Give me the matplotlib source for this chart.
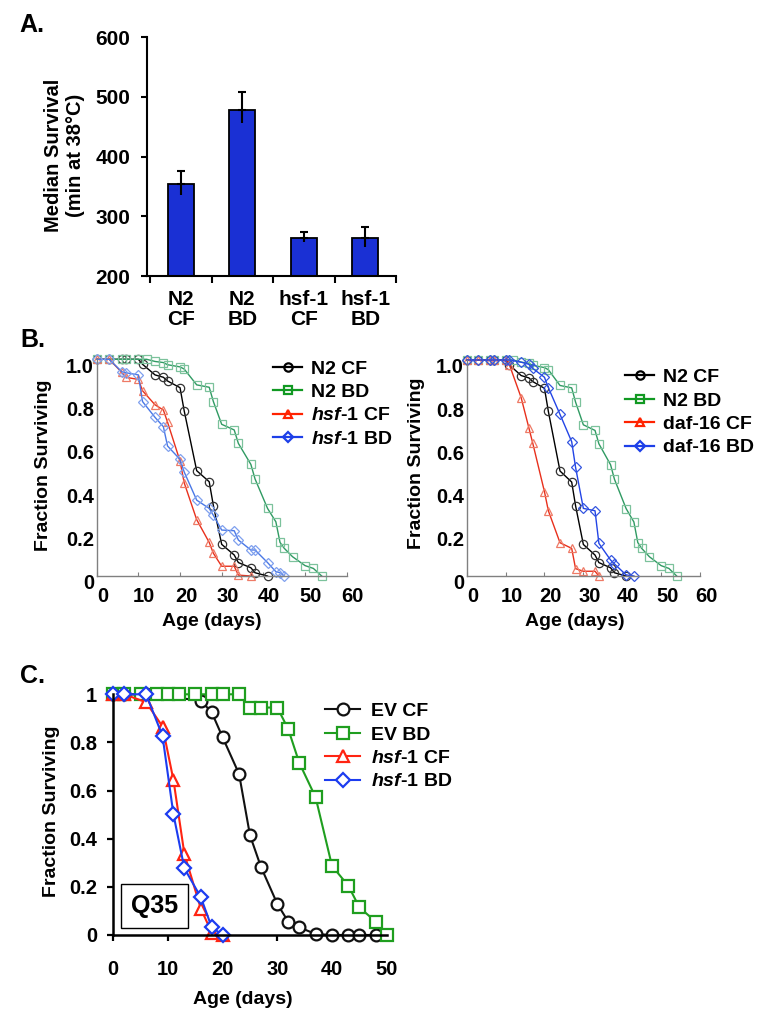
import matplotlib
matplotlib.use('Agg')
import matplotlib.pyplot as plt
from matplotlib.transforms import ScaledTranslation

plt.rcParams['font.family'] = ['Liberation Sans', 'DejaVu Sans']
plt.rcParams['font.weight'] = 'bold'
plt.rcParams['mathtext.fontset'] = 'custom'
plt.rcParams['mathtext.it'] = 'Liberation Sans:italic:bold'
plt.rcParams['mathtext.rm'] = 'Liberation Sans:bold'

# ---- Panel A: median survival at 38C ----
bar_labels = ['N2\nCF', 'N2\nBD', 'hsf-1\nCF', 'hsf-1\nBD']
median_survival = [354, 478, 264, 264]
err_low = [19, 22, 7, 15]
err_high = [22, 30, 10, 18]

# ---- Panel B: survival curves (days, fraction surviving) ----
n2_cf_days = [0, 3, 6, 7, 10, 11, 14, 16, 17, 20, 21, 24, 27, 28, 30, 33, 34, 37, 38, 41]
n2_cf_frac = [1, 1, 1, 1, 1, 0.977, 0.928, 0.917, 0.9, 0.869, 0.762, 0.486, 0.435, 0.325,
              0.146, 0.097, 0.062, 0.038, 0.015, 0]
n2_bd_days = [0, 3, 6, 7, 10, 12, 14, 16, 17, 20, 21, 24, 27, 28, 30, 33, 34, 37, 38, 41,
              43, 44, 45, 47, 50, 52, 54]
n2_bd_frac = [1, 1, 1, 1, 1, 1, 0.99, 0.985, 0.975, 0.965, 0.955, 0.882, 0.871, 0.805, 0.7,
              0.674, 0.612, 0.515, 0.448, 0.312, 0.25, 0.155, 0.128, 0.089, 0.048, 0.035, 0]
hsf1_cf_days = [0, 3, 6, 7, 10, 11, 14, 16, 17, 20, 21, 24, 27, 28, 30, 33, 34, 37]
hsf1_cf_frac = [1, 1, 0.94, 0.917, 0.907, 0.855, 0.79, 0.766, 0.71, 0.53, 0.43, 0.26, 0.155,
                0.105, 0.045, 0.045, 0.004, 0]
hsf1_bd_days = [0, 3, 6, 7, 10, 11, 14, 16, 17, 20, 21, 24, 27, 28, 30, 33, 34, 37, 38, 41,
                43, 44, 45]
hsf1_bd_frac = [1, 1, 0.943, 0.938, 0.928, 0.805, 0.732, 0.689, 0.6, 0.538, 0.48, 0.35, 0.312,
                0.28, 0.212, 0.209, 0.166, 0.12, 0.12, 0.062, 0.02, 0.015, 0]
daf16_cf_days = [0, 3, 6, 7, 10, 11, 14, 16, 17, 20, 21, 24, 27, 28, 30, 33, 34]
daf16_cf_frac = [1, 1, 1, 1, 1, 0.977, 0.826, 0.685, 0.614, 0.39, 0.302, 0.154, 0.128, 0.034,
                 0.022, 0.022, 0]
daf16_bd_days = [0, 3, 6, 7, 10, 11, 14, 16, 17, 20, 21, 24, 27, 28, 30, 33, 34, 37, 38, 41, 43]
daf16_bd_frac = [1, 1, 1, 1, 1, 1, 0.99, 0.98, 0.961, 0.92, 0.872, 0.748, 0.622, 0.503, 0.313,
                 0.302, 0.151, 0.074, 0.056, 0.005, 0]

# ---- Panel C: Q35 survival ----
ev_cf_days = [0, 2, 6, 16, 18, 20, 23, 25, 27, 30, 32, 34, 37, 40, 43, 45, 48]
ev_cf_frac = [1, 1, 1, 0.974, 0.925, 0.821, 0.669, 0.414, 0.283, 0.129, 0.055, 0.032, 0.004,
              0, 0, 0, 0]
ev_bd_days = [0, 2, 5, 8, 10, 12, 15, 18, 20, 23, 25, 27, 30, 32, 34, 37, 40, 43, 45, 48, 50]
ev_bd_frac = [1, 1, 1, 1, 1, 1, 1, 1, 1, 1, 0.945, 0.945, 0.945, 0.855, 0.716, 0.572, 0.287,
              0.204, 0.115, 0.055, 0]
q_hsf1_cf_days = [0, 2, 6, 9, 11, 13, 16, 18, 20]
q_hsf1_cf_frac = [1, 1, 0.967, 0.866, 0.644, 0.337, 0.11, 0.01, 0]
q_hsf1_bd_days = [0, 2, 6, 9, 11, 13, 16, 18, 20]
q_hsf1_bd_frac = [1, 1, 1, 0.827, 0.501, 0.277, 0.157, 0.032, 0]

W, H = 768, 1029
fig = plt.figure(figsize=(7.68, 10.29), dpi=100)


def add_ax(x0, y0, x1, y1):
    # box given in pixels from the top-left corner
    return fig.add_axes([x0 / W, 1 - y1 / H, (x1 - x0) / W, (y1 - y0) / H])


def fig_text(x, y, s, **kw):
    fig.text(x / W, 1 - y / H, s, **kw)


# ================= Panel A =================
ax = add_ax(146.7, 37.3, 396, 276)
pos = list(range(len(median_survival)))
zeros = [0] * len(pos)
ax.bar(pos, median_survival, width=0.43, color='#1a30d4', edgecolor='black', linewidth=1.3,
       zorder=2)
ax.errorbar(pos, median_survival, yerr=[zeros, err_high], fmt='none', ecolor='black',
            elinewidth=1.5, capsize=2.6, capthick=1.5, zorder=3)
ax.errorbar(pos, median_survival, yerr=[err_low, zeros], fmt='none', ecolor='black',
            elinewidth=1.5, capsize=0, zorder=3)
ax.set_ylim(200, 600)
ax.set_xlim(-0.554, 3.5)
ax.set_yticks([200, 300, 400, 500, 600])
ax.set_xticks([-0.5, 0.5, 1.5, 2.5, 3.5])
ax.set_xticklabels([])
ax.set_xticks(pos, minor=True)
ax.set_xticklabels(bar_labels, minor=True, linespacing=1.05)
ax.tick_params(axis='x', which='major', direction='out', length=5, width=1.5)
ax.tick_params(axis='x', which='minor', length=0, pad=10, labelsize=15)
ax.tick_params(axis='y', direction='out', length=4, width=1.5, pad=8, labelsize=15)
for s in ['top', 'right']:
    ax.spines[s].set_visible(False)
for s in ['left', 'bottom']:
    ax.spines[s].set_linewidth(1.5)
fig_text(64.5, 155, 'Median Survival\n(min at 38\u00b0C)', rotation=90, ha='center',
         va='center', fontsize=14.5, linespacing=1.25)
fig_text(19, 32, 'A.', fontsize=18, va='baseline')


# ================= Panel B =================
def style_b(ax):
    ax.set_xlim(0, 60)
    ax.set_ylim(0, 1.0)
    ax.set_xticks([0, 10, 20, 30, 40, 50, 60])
    ax.set_yticks([0, 0.2, 0.4, 0.6, 0.8, 1.0])
    ax.set_yticklabels(['0', '0.2', '0.4', '0.6', '0.8', '1.0'])
    ax.tick_params(axis='x', direction='in', length=3, width=0.8, color='#808080', pad=3.6,
                   labelsize=14.5)
    ax.tick_params(axis='y', length=0, pad=6.3, labelsize=14.5)
    for s in ['top', 'right']:
        ax.spines[s].set_visible(False)
    for s in ['left', 'bottom']:
        ax.spines[s].set_color('#808080')
        ax.spines[s].set_linewidth(1.0)
    off = ScaledTranslation(4.3 / 72, -4.3 / 72, fig.dpi_scale_trans)
    for lab in ax.get_xticklabels() + ax.get_yticklabels():
        lab.set_transform(lab.get_transform() + off)


def curve(ax, d, f, line_c, mark_c, marker, label, ms=6, lw=1.0, mew=0.9):
    ax.plot(d, f, color=line_c, marker=marker, ms=ms, mfc='none', mec=mark_c, mew=mew,
            lw=lw, label=label, clip_on=False)


def legend_b(ax, x, y, colors):
    leg = ax.legend(loc='upper left', bbox_to_anchor=(x / W, 1 - y / H),
                    bbox_transform=fig.transFigure, frameon=False, fontsize=14,
                    handlelength=1.5, handletextpad=0.45, labelspacing=0.3, borderpad=0,
                    borderaxespad=0)
    for h, c in zip(leg.legend_handles, colors):
        h.set_color(c)
        h.set_markeredgecolor(c)
        h.set_linewidth(1.6)
        h.set_markeredgewidth(1.6)


hsf_cf = r'$\mathit{hsf}$-$\mathit{1}$ CF'
hsf_bd = r'$\mathit{hsf}$-$\mathit{1}$ BD'
legend_colors = ['black', '#119922', '#ff2200', '#1d3fe8']

axl = add_ax(96.7, 359.3, 346.7, 576)
curve(axl, n2_cf_days, n2_cf_frac, 'black', '#333333', 'o', 'N2 CF')
curve(axl, n2_bd_days, n2_bd_frac, '#2f9a62', '#7cc29c', 's', 'N2 BD')
curve(axl, hsf1_cf_days, hsf1_cf_frac, '#e8301c', '#ee7a66', '^', hsf_cf)
curve(axl, hsf1_bd_days, hsf1_bd_frac, '#4a78e6', '#7fa0ee', 'D', hsf_bd, ms=5)
style_b(axl)
legend_b(axl, 273, 360, legend_colors)

axr = add_ax(466.7, 360, 700, 576)
curve(axr, n2_cf_days, n2_cf_frac, 'black', '#333333', 'o', 'N2 CF')
curve(axr, n2_bd_days, n2_bd_frac, '#2f9a62', '#7cc29c', 's', 'N2 BD')
curve(axr, daf16_cf_days, daf16_cf_frac, '#e8301c', '#ee7a66', '^', 'daf-16 CF')
curve(axr, daf16_bd_days, daf16_bd_frac, '#2244e6', '#3355e0', 'D', 'daf-16 BD', ms=5)
style_b(axr)
legend_b(axr, 625, 368.5, legend_colors)

fig_text(43.3, 465, 'Fraction Surviving', rotation=90, ha='center', va='center', fontsize=14)
fig_text(416.7, 463, 'Fraction Surviving', rotation=90, ha='center', va='center', fontsize=14)
fig_text(211.7, 621.7, 'Age (days)', ha='center', va='center', fontsize=14)
fig_text(575, 621.7, 'Age (days)', ha='center', va='center', fontsize=14)
fig_text(20, 347, 'B.', fontsize=18, va='baseline')

# ================= Panel C =================
axc = add_ax(113.3, 694.3, 386.7, 935)
kw = dict(ms=8.5, lw=1.5, mew=1.6, clip_on=False, mfc='white')
axc.plot(ev_cf_days, ev_cf_frac, color='#111111', marker='o', label='EV CF', **kw)
axc.plot(ev_bd_days, ev_bd_frac, color='#1f9e1f', marker='s', label='EV BD', **kw)
axc.plot(q_hsf1_cf_days, q_hsf1_cf_frac, color='#ff2412', marker='^', label=hsf_cf, **kw)
axc.plot(q_hsf1_bd_days, q_hsf1_bd_frac, color='#1c3cf0', marker='D', label=hsf_bd,
         ms=7, lw=1.5, mew=1.6, clip_on=False, mfc='white')
axc.set_xlim(0, 50)
axc.set_ylim(0, 1)
axc.set_xticks([0, 10, 20, 30, 40, 50])
axc.set_yticks([0, 0.2, 0.4, 0.6, 0.8, 1])
axc.set_yticklabels(['0', '0.2', '0.4', '0.6', '0.8', '1'])
axc.tick_params(axis='x', direction='out', length=4, width=1.6, pad=14, labelsize=14.5)
axc.tick_params(axis='y', direction='out', length=4.5, width=1.6, pad=7, labelsize=14.5)
for s in ['top', 'right']:
    axc.spines[s].set_visible(False)
for s in ['left', 'bottom']:
    axc.spines[s].set_linewidth(1.8)
axc.legend(loc='upper left', bbox_to_anchor=(325 / W, 1 - 702.5 / H),
           bbox_transform=fig.transFigure, frameon=False, fontsize=14, handlelength=1.8,
           handletextpad=0.55, labelspacing=0.3, borderpad=0, borderaxespad=0)
axc.text(7.5, 0.12, 'Q35', ha='center', va='center', fontsize=18,
         bbox=dict(boxstyle='square,pad=0.4', facecolor='white', edgecolor='black',
                   linewidth=1.0), zorder=5)
fig_text(51.7, 811.7, 'Fraction Surviving', rotation=90, ha='center', va='center', fontsize=14)
fig_text(242.7, 1000, 'Age (days)', ha='center', va='center', fontsize=14)
fig_text(20, 683, 'C.', fontsize=18, va='baseline')

fig.savefig('out.png', dpi=100)
